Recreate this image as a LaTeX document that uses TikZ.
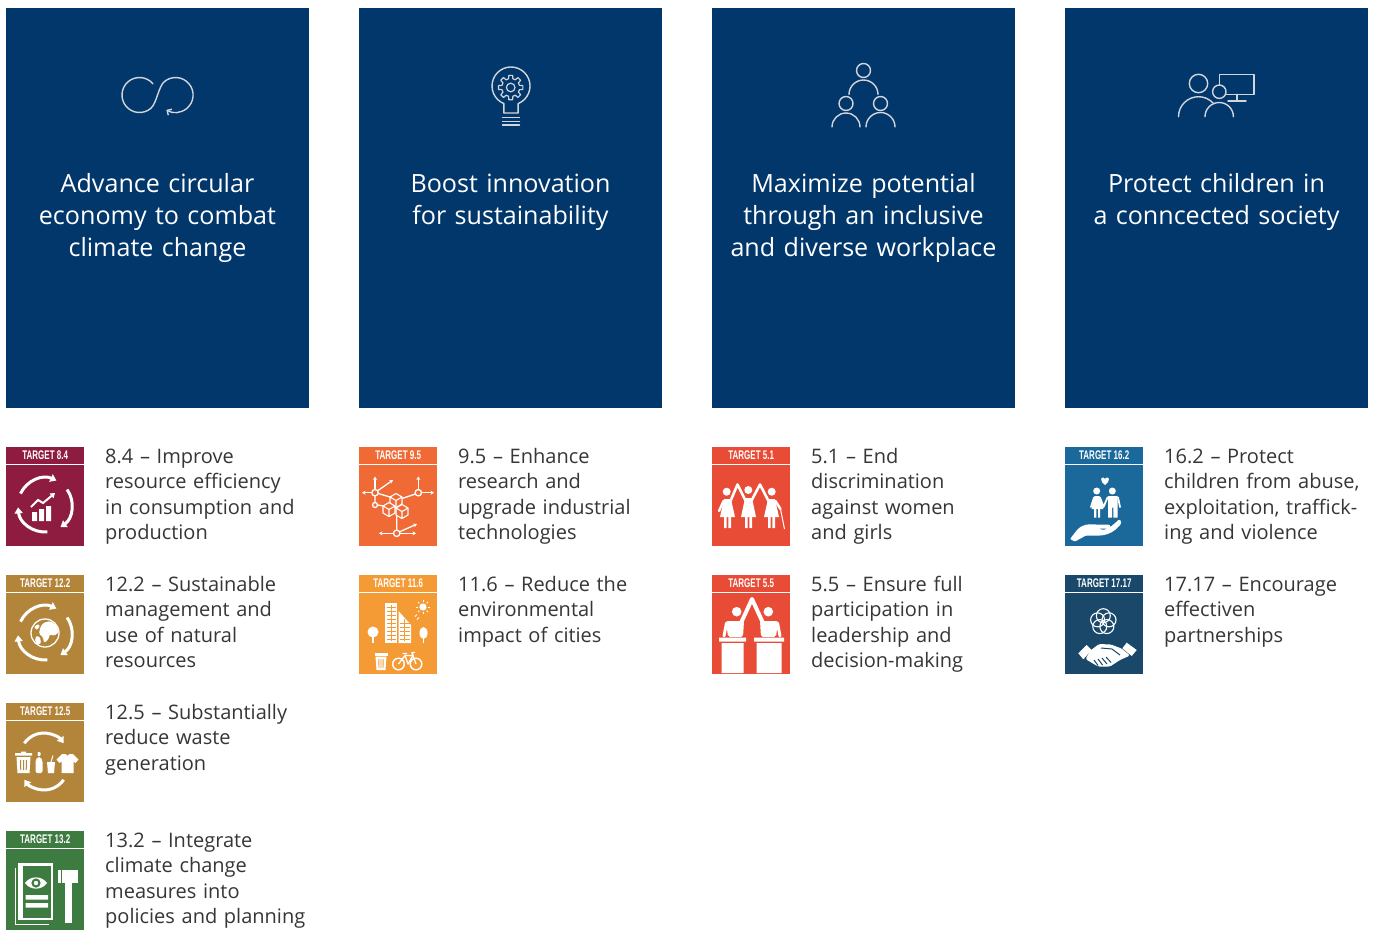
\documentclass[tikz,border=0pt]{standalone}
\usepackage{fontspec}
\setmainfont{Open Sans}
\newfontfamily\tgfont{Liberation Sans}[FakeStretch=0.64]
\usetikzlibrary{arrows.meta}
\definecolor{panelblue}{HTML}{02376B}
\definecolor{iconline}{HTML}{D2D5DA}
\definecolor{txt}{HTML}{363636}
\definecolor{sdgeight}{HTML}{8E1B40}
\definecolor{sdgtwelve}{HTML}{B3853B}
\definecolor{sdgthirteen}{HTML}{3E7B41}
\definecolor{sdgnine}{HTML}{F06A35}
\definecolor{sdgeleven}{HTML}{F59B35}
\definecolor{sdgfive}{HTML}{E84B36}
\definecolor{sdgsixteen}{HTML}{1B699B}
\definecolor{sdgseventeen}{HTML}{19486A}
\newcommand{\sdgbadge}[5]{%
  \node[badge, fill=#4] (b#1) at (#2,#3) {};
  \draw[sepline] ([yshift=-17.2pt]b#1.north west) -- ([yshift=-17.2pt]b#1.north east);
  \node[btag] (t#1) at ([yshift=-8.4pt]b#1.north) {#5};
}
\begin{document}
\begin{tikzpicture}[x=1pt,y=-1pt,
  panel/.style={fill=panelblue, draw=none, minimum width=303pt, minimum height=400pt, anchor=north west, inner sep=0pt},
  ptitle/.style={text=white, font=\fontsize{25.1}{32}\selectfont, align=center, text width=300pt, anchor=base, inner sep=0pt},
  ticon/.style={draw=iconline, line width=1.4pt, line cap=round, line join=round},
  badge/.style={minimum width=78pt, minimum height=99pt, anchor=north west, inner sep=0pt, draw=none},
  sepline/.style={draw=white, line width=1.2pt},
  btag/.style={text=white, font=\tgfont\bfseries\fontsize{12.5}{12.5}\selectfont, inner sep=0pt},
  body/.style={text=txt, font=\fontsize{20}{25.6}\selectfont, align=left, text width=240pt, anchor=base west, inner sep=0pt},
  wthick/.style={draw=white, line width=3pt},
  wmid/.style={draw=white, line width=1.3pt},
  wthin/.style={draw=white, line width=1.1pt},
  warr/.style={-{Triangle[length=6pt,width=8pt]}},
  sarr/.style={-{Stealth[length=3.5pt,width=4pt]}},
  isocube/.pic={
    \filldraw[fill=sdgnine, draw=white, line width=1.1pt, line join=round]
      (0,0) -- (6,-3.5) -- (12,0) -- (12,7) -- (6,10.5) -- (0,7) -- cycle;
    \draw[white, line width=1.1pt, line join=round] (0,0) -- (6,3.5) -- (12,0) (6,3.5) -- (6,10.5);
  }
]
\fill[white] (0,0) rectangle (1375,930);
\useasboundingbox (0,0) rectangle (1375,930);

% ---------- top panels ----------
\node[panel] (p1) at (6,8) {};
\node[panel] (p2) at (359,8) {};
\node[panel] (p3) at (712,8) {};
\node[panel] (p4) at (1065,8) {};

\node[ptitle] (h1) at (157.5,192.5) {Advance circular\\economy to combat\\climate change};
\node[ptitle] (h2) at (510.5,192.5) {Boost innovation\\for sustainability};
\node[ptitle] (h3) at (863.5,192.5) {Maximize potential\\through an inclusive\\and diverse workplace};
\node[ptitle] (h4) at (1216.5,192.5) {Protect children in\\a conncected society};

% icon 1: infinity with arrow
\draw[ticon, -{Straight Barb[length=3.5pt,width=7pt]}]
  (139.5,95) ++(-40:17.5) arc[start angle=-40, end angle=-310, radius=17.5]
  .. controls +(6,-5) and +(-6,5) .. ++(13.6,-26.8)
  arc[start angle=-130, end angle=122, radius=17.5];

% icon 2: light bulb with gear
\draw[ticon] (503.9,113) -- (503.9,103.6) arc[start angle=112, end angle=428, radius=19] -- (518.1,113) -- cycle;
\draw[ticon] (502.5,117.5) -- (519.5,117.5) (502.5,121.2) -- (519.5,121.2) (502.5,125) -- (519.5,125);
\begin{scope}[shift={(510.7,87.5)}]
  \draw[ticon, line width=1.2pt] (-14:9)
    \foreach \a in {0,45,...,315} { -- (\a-14:9) -- (\a-9:12.3) -- (\a+9:12.3) -- (\a+14:9) } -- cycle;
  \draw[ticon, line width=1.2pt] (0,0) circle[radius=4.3];
\end{scope}

% icon 3: three people
\draw[ticon] (863.5,70.5) circle[radius=7];
\draw[ticon] (849,94.5) arc[start angle=180, end angle=360, radius=14.5];
\draw[ticon] (846,103.5) circle[radius=7];
\draw[ticon] (832,127) arc[start angle=180, end angle=360, radius=14];
\draw[ticon] (880.5,103.5) circle[radius=7];
\draw[ticon] (866,127) arc[start angle=180, end angle=360, radius=14.5];

% icon 4: adult, child and screen
\draw[ticon] (1198.5,83.5) circle[radius=9.2];
\draw[ticon] (1178.5,116.7) arc[start angle=180, end angle=317, radius=20];
\draw[ticon] (1219.3,91.7) circle[radius=6.7];
\draw[ticon] (1205,116.7) arc[start angle=180, end angle=360, radius=14.2];
\draw[ticon] (1219.3,85) -- (1219.3,74.3) -- (1254,74.3) -- (1254,94.3) -- (1226.3,94.3);
\draw[ticon] (1237,94.3) -- (1237,101) (1228,101) -- (1246,101);

% ---------- badges ----------
\sdgbadge{84}{6}{447}{sdgeight}{TARGET 8.4}
\sdgbadge{122}{6}{575}{sdgtwelve}{TARGET 12.2}
\sdgbadge{125}{6}{703}{sdgtwelve}{TARGET 12.5}
\sdgbadge{132}{6}{831}{sdgthirteen}{TARGET 13.2}
\sdgbadge{95}{359}{447}{sdgnine}{TARGET 9.5}
\sdgbadge{116}{359}{575}{sdgeleven}{TARGET 11.6}
\sdgbadge{51}{712}{447}{sdgfive}{TARGET 5.1}
\sdgbadge{55}{712}{575}{sdgfive}{TARGET 5.5}
\sdgbadge{162}{1065}{447}{sdgsixteen}{TARGET 16.2}
\sdgbadge{1717}{1065}{575}{sdgseventeen}{TARGET 17.17}

% 8.4 icon
\begin{scope}[shift={(b84.north west)}]
  \begin{scope}[shift={(39,58)}]
    \foreach \s/\e in {-155/-65,-35/55,85/175}
      \draw[wthick, warr] (\s:27) arc[start angle=\s, end angle=\e, radius=27];
  \end{scope}
  \fill[white] (26,65) rectangle (31,74) (33,62) rectangle (38,74) (40,59) rectangle (45,74);
  \draw[white, line width=2pt, -{Triangle[length=4.5pt,width=6pt]}] (25,60) -- (32,53) -- (37,56) -- (49,46);
\end{scope}

% 12.2 icon
\begin{scope}[shift={(b122.north west)}]
  \begin{scope}[shift={(39,58)}]
    \foreach \s/\e in {-155/-65,-35/55,85/175}
      \draw[wthick, warr] (\s:27) arc[start angle=\s, end angle=\e, radius=27];
    \draw[wmid] (0,0) circle[radius=14];
    \begin{scope}
      \clip (0,0) circle[radius=14];
      \fill[white, rounded corners=1.5pt] (-2,-10) -- (5,-12) -- (11,-8) -- (14,-1) -- (9,3) -- (5,1) -- (3,7) -- (-1,10) -- (-2,4) -- (-6,1) -- (-5,-5) -- cycle;
      \fill[white, rounded corners=1pt] (-11,-6) -- (-7,-9) -- (-5,-7) -- (-8,-3) -- cycle;
      \fill[white, rounded corners=1pt] (-9,3) -- (-5,4) -- (-4,10) -- (-7,12) -- (-10,8) -- cycle;
    \end{scope}
  \end{scope}
\end{scope}

% 12.5 icon
\begin{scope}[shift={(b125.north west)}]
  \begin{scope}[shift={(38,54)}]
    \draw[wthick, warr] (-145:24) arc[start angle=-145, end angle=-35, radius=24];
  \end{scope}
  \begin{scope}[shift={(38,63)}]
    \draw[wthick, warr] (35:24) arc[start angle=35, end angle=145, radius=24];
  \end{scope}
  \fill[white] (9,50) rectangle (26,52.5) (15,48.5) rectangle (20,50);
  \fill[white] (10.5,54) -- (24.5,54) -- (23.5,70) -- (11.5,70) -- cycle;
  \draw[sdgtwelve, line width=1pt] (14.5,57) -- (14.8,67) (17.5,57) -- (17.5,67) (20.5,57) -- (20.2,67);
  \fill[white, rounded corners=0.8pt] (31.5,49) rectangle (34.5,53);
  \fill[white, rounded corners=2pt] (29.5,70) -- (29.5,57) -- (31.5,54) -- (34.5,54) -- (36.5,57) -- (36.5,70) -- cycle;
  \fill[white] (41,59) -- (49,59) -- (48,70) -- (42,70) -- cycle;
  \draw[white, line width=1pt] (45,59) -- (47,52.5);
  \fill[white] (56,51) -- (59.5,51) .. controls (60.5,53.5) and (62.5,53.5) .. (63.5,51) -- (67,51) -- (72.5,56.5) -- (69.5,60) -- (67.5,58.5) -- (67.5,70) -- (55.5,70) -- (55.5,58.5) -- (53.5,60) -- (50.5,56.5) -- cycle;
\end{scope}

% 13.2 icon
\begin{scope}[shift={(b132.north west)}]
  \draw[white, line width=1.3pt] (9.5,37) -- (9.5,93.5) -- (43,93.5);
  \fill[white] (12.3,32.3) rectangle (47.3,89);
  \fill[sdgthirteen] (17.3,34.8) rectangle (44.8,86.5);
  \fill[white] (19,52) .. controls (24,44.5) and (36,44.5) .. (41,52) .. controls (36,59.5) and (24,59.5) .. (19,52) -- cycle;
  \fill[sdgthirteen] (30,52) circle[radius=4.6];
  \fill[white] (30,52) circle[radius=2.2];
  \fill[white] (19.5,64) rectangle (42,68.5) (19.5,72) rectangle (42,76.5);
  \fill[white] (52.3,39) rectangle (72.3,52.3);
  \draw[sdgthirteen, line width=1pt] (55.5,39) -- (55.5,52.3);
  \fill[white] (59.3,52.3) rectangle (65.7,92);
\end{scope}

% 9.5 icon
\begin{scope}[shift={(b95.north west)}]
  \draw[wmid] (19.2,46.5) -- (31,50) (56.4,47) -- (43,51.5) (16,48.9) -- (16,55.5) (18.5,58) -- (25,59) (37.7,69) -- (37.7,83.1);
  \draw[wmid, sarr] (16,42.5) -- (16,29.5);
  \draw[wmid, sarr] (12.8,45.7) -- (3,45.7);
  \draw[wmid, sarr] (18.6,43.8) -- (34,33);
  \draw[wmid, sarr] (59.3,42.5) -- (59.3,29.5);
  \draw[wmid, sarr] (62.5,45.7) -- (75,45.7);
  \draw[wmid, sarr] (34.5,86.3) -- (20,86.3);
  \draw[wmid, sarr] (40.6,84.8) -- (58,77);
  \draw[wmid, sarr] (40.9,86.3) -- (57,86.3);
  \pic at (31,50) {isocube};
  \pic at (24,59) {isocube};
  \pic at (37,61) {isocube};
  \filldraw[fill=sdgnine, draw=white, line width=1.3pt] (16,45.7) circle[radius=3.2] (59.3,45.7) circle[radius=3.2] (37.7,86.3) circle[radius=3.2] (16,58) circle[radius=2.5];
\end{scope}

% 11.6 icon
\begin{scope}[shift={(b116.north west)}]
  \fill[white] (26,28) rectangle (38,68);
  \foreach \yy in {32,36,...,64} \draw[sdgeleven, line width=0.8pt] (27.5,\yy) -- (36.5,\yy);
  \draw[sdgeleven, line width=0.8pt] (32,30) -- (32,66);
  \fill[white] (39.5,36) -- (52,50) -- (52,68) -- (39.5,68) -- cycle;
  \foreach \yy in {48,52,...,64} \draw[sdgeleven, line width=0.8pt] (41,\yy) -- (50.5,\yy);
  \draw[sdgeleven, line width=0.8pt] (45.5,44) -- (45.5,66);
  \begin{scope}[shift={(64,32)}]
    \fill[white] (0,0) circle[radius=3.6];
    \foreach \a in {0,45,...,315} \draw[white, line width=0.9pt] (\a:5.2) -- (\a:7);
  \end{scope}
  \draw[white, line width=1pt] (58,39.5) -- (56,41.5) (60,42.5) -- (58,44.5);
  \fill[white] (14,57) circle[radius=5.5];
  \draw[white, line width=1.5pt] (14,60) -- (14,68);
  \fill[white] (64.5,58) ellipse[x radius=4, y radius=6];
  \draw[white, line width=1.5pt] (64.5,62) -- (64.5,68);
  \fill[white] (15.5,78) rectangle (28.5,80.5);
  \fill[white] (16.5,81.5) -- (27.5,81.5) -- (26.5,95) -- (17.5,95) -- cycle;
  \draw[sdgeleven, line width=0.9pt] (19.8,84) -- (20,93) (22,84) -- (22,93) (24.2,84) -- (24,93);
  \draw[white, line width=1.4pt] (39.5,89) circle[radius=5.8] (57,89) circle[radius=5.8];
  \draw[white, line width=1.3pt, line join=round] (39.5,89) -- (46,80.5) -- (54,80.5) -- (57,89) (46,80.5) -- (49,89) -- (54,80.5) (43.5,78.5) -- (48,78.5) (54,80.5) -- (53,77.5) -- (56,77.5);
\end{scope}

% 5.1 icon
\begin{scope}[shift={(b51.north west)}]
  \fill[white] (14.7,44.7) circle[radius=4] (36.3,43) circle[radius=4] (59.7,44.7) circle[radius=4];
  \fill[white] (12,52) -- (19,52) -- (23,70) -- (8,70) -- cycle;
  \fill[white] (33,51) -- (40,51) -- (44,70) -- (29,70) -- cycle;
  \fill[white] (56,52) -- (63,52) -- (67,70) -- (52,70) -- cycle;
  \fill[white] (12,70) rectangle (14.6,81) (16.4,70) rectangle (19,81)
               (33,70) rectangle (35.6,81) (37.4,70) rectangle (40,81)
               (56,70) rectangle (58.6,81) (60.4,70) rectangle (63,81);
  \draw[white, line width=2.6pt, line cap=round, line join=round] (18.5,54) -- (25.5,37.5) -- (33.5,53.5);
  \draw[white, line width=2.6pt, line cap=round, line join=round] (39.5,53.5) -- (48,37.5) -- (56.5,54);
  \draw[white, line width=2.4pt, line cap=round] (11.5,54) -- (7,64) (63.5,54) -- (68.5,62);
  \draw[white, line width=1pt] (68.5,62) -- (72.5,82);
\end{scope}

% 5.5 icon
\begin{scope}[shift={(b55.north west)}]
  \fill[white] (24.7,36.7) circle[radius=4.8] (56.3,36.7) circle[radius=4.8];
  \fill[white, rounded corners=2pt] (14,46) -- (32,46) -- (31,62) -- (16,62) -- cycle;
  \fill[white, rounded corners=2pt] (48,46) -- (66,46) -- (64,62) -- (49,62) -- cycle;
  \draw[white, line width=4pt, line cap=round, line join=round] (29,48) -- (40,24) -- (51,48);
  \draw[white, line width=3pt, line cap=round] (14.5,48) -- (12,61) (65.5,48) -- (68,61);
  \fill[white] (7,62.5) rectangle (34,66.5) (9.5,68) rectangle (31.5,98);
  \fill[white] (42,62.5) rectangle (72,66.5) (44.5,68) rectangle (69.5,98);
\end{scope}

% 16.2 icon
\begin{scope}[shift={(b162.north west)}]
  \fill[white] (40,38) .. controls (35,34.5) and (35.5,30) .. (38,30.5) .. controls (39,30.7) and (40,31.5) .. (40,32.2) .. controls (40,31.5) and (41,30.7) .. (42,30.5) .. controls (44.5,30) and (45,34.5) .. (40,38) -- cycle;
  \fill[white] (31.7,44) circle[radius=3.5] (47.3,44) circle[radius=3.5];
  \fill[white] (29.5,49) -- (34.5,49) -- (38.3,62) -- (26.5,62) -- cycle;
  \fill[white] (29.2,62) rectangle (31.4,70.5) (33,62) rectangle (35.2,70.5);
  \fill[white] (43,49) rectangle (52.5,60.5) (43,60.5) rectangle (47.2,70.5) (48.3,60.5) rectangle (52.5,70.5);
  \draw[white, line width=1.8pt, line cap=round, line join=round] (29,50.5) -- (26,60) (35,50.5) -- (38.5,60) -- (42.5,50.5) (53,50.5) -- (55,60);
  \fill[white, rounded corners=1pt] (5,92) -- (12,83) .. controls (18,77) and (24,77) .. (30,77.5) -- (42,77.5) .. controls (46,77.5) and (46,81.5) .. (42,81.5) -- (33,81.5) -- (38,82.8) .. controls (44,82) and (49,77) .. (54,72.5) .. controls (56.5,73.5) and (56.5,76) .. (55,78) .. controls (50,84) and (44,87.5) .. (36,88.5) -- (21,88.5) -- (10,94.5) -- cycle;
\end{scope}

% 17.17 icon
\begin{scope}[shift={(b1717.north west)}]
  \begin{scope}[shift={(38.3,46.7)}]
    \foreach \a in {-90,-18,54,126,198} \draw[wthin] (\a:6) circle[radius=7];
  \end{scope}
  \fill[white] (13.3,78.3) -- (21.7,70) -- (26.7,75) -- (18.3,84.3) -- cycle;
  \fill[white] (61.7,67.7) -- (71.7,75) -- (66.7,81) -- (57.3,73.3) -- cycle;
  \fill[white, rounded corners=1.5pt] (25.5,75.5) -- (34,69) -- (46,69.5) -- (56.5,73.5) -- (65,80.5) -- (55,85) -- (45,91.5) -- (33,91.5) -- (20.5,84) -- cycle;
  \draw[sdgseventeen, line width=1pt] (29,85) -- (33,90.5) (33,84) -- (37.5,90) (37,83) -- (42,89) (41,82) -- (46,87.5) (36,73) -- (47,74) -- (55,80);
\end{scope}

% ---------- target texts ----------
\node[body] (x84) at (105,463) {8.4 – Improve\\resource efficiency\\in consumption and\\production};
\node[body] (x122) at (105,591) {12.2 – Sustainable\\management and\\use of natural\\resources};
\node[body] (x125) at (105,719) {12.5 – Substantially\\reduce waste\\generation};
\node[body] (x132) at (105,847) {13.2 – Integrate\\climate change\\measures into\\policies and planning};
\node[body] (x95) at (458,463) {9.5 – Enhance\\research and\\upgrade industrial\\technologies};
\node[body] (x116) at (458,591) {11.6 – Reduce the\\environmental\\impact of cities};
\node[body] (x51) at (811,463) {5.1 – End\\discrimination\\against women\\and girls};
\node[body] (x55) at (811,591) {5.5 – Ensure full\\participation in\\leadership and\\decision-making};
\node[body] (x162) at (1164,463) {16.2 – Protect\\children from abuse,\\exploitation, traffick-\\ing and violence};
\node[body] (x1717) at (1164,591) {17.17 – Encourage\\effectiven\\partnerships};
\end{tikzpicture}
\end{document}
